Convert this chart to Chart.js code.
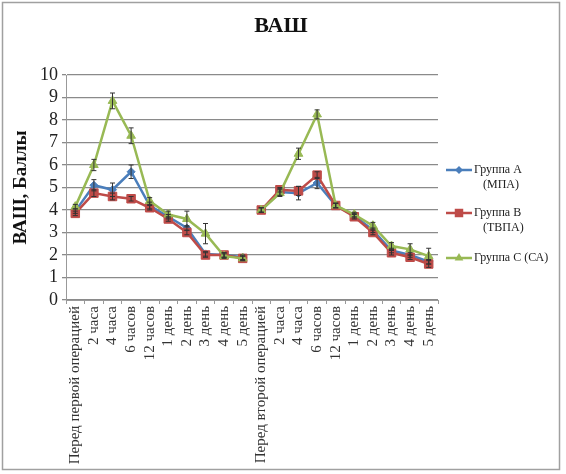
<!DOCTYPE html>
<html><head><meta charset="utf-8">
<script src="https://cdn.jsdelivr.net/npm/chart.js@4.4.1/dist/chart.umd.min.js"></script>
<style>html,body{margin:0;padding:0;background:#fff}#wrap{width:566px;height:474px}</style>
</head><body><div id="wrap"><canvas id="c" width="566" height="474"></canvas></div>
<script>
const chartTitle = 'ВАШ';
const yTitle = 'ВАШ, Баллы';
const categories = ['Перед первой операцией','2 часа','4 часа','6 часов','12 часов','1 день','2 день','3 день','4 день','5 день',
  'Перед второй операцией','2 часа','4 часа','6 часов','12 часов','1 день','2 день','3 день','4 день','5 день'];
const seriesNames = [['Группа А','(МПА)'],['Группа В','(ТВПА)'],['Группа С (СА)']];
const groupA = [3.95,5.1,4.9,5.7,4.2,3.7,3.2,2.05,2.0,1.9, 4.0,4.8,4.75,5.2,4.2,3.75,3.1,2.2,2.0,1.7];
const groupB = [3.85,4.75,4.6,4.5,4.1,3.6,3.0,2.0,2.0,1.85, 4.0,4.9,4.85,5.55,4.2,3.7,3.0,2.1,1.9,1.6];
const groupC = [4.15,6.0,8.85,7.3,4.4,3.8,3.6,2.95,1.95,1.85, 4.0,4.75,6.5,8.25,4.2,3.8,3.3,2.4,2.25,1.95];
const errA = [0.1,0.25,0.3,0.3,0.15,0.1,0.1,0.1,0.1,0.1, 0.1,0.15,0.3,0.25,0.1,0.1,0.1,0.1,0.1,0.1];
const errB = [0.1,0.15,0.15,0.1,0.1,0.1,0.1,0.1,0.1,0.1, 0.1,0.1,0.2,0.15,0.1,0.1,0.1,0.1,0.1,0.15];
const errC = [0.1,0.25,0.35,0.35,0.15,0.15,0.35,0.45,0.1,0.1, 0.1,0.15,0.25,0.2,0.1,0.1,0.15,0.15,0.25,0.35];
const yTicks = [0,1,2,3,4,5,6,7,8,9,10];
const breakAfter = 9;

const colors = ['#4a7ebb','#be4b48','#98b954'];
const styles = ['rectRot','rect','triangle'];
const radii = [4,6,5];
const SERIF = '"Liberation Serif","Times New Roman",serif';

function mkDs(i, data, err){
  return {
    label: seriesNames[i].join(' '), data, err,
    borderColor: colors[i], backgroundColor: colors[i],
    borderWidth: 2.5, pointStyle: styles[i], pointRadius: radii[i],
    pointBorderColor: colors[i], pointBackgroundColor: colors[i], pointBorderWidth: 1,
    tension: 0, order: 2 - i,
    segment: { borderColor: ctx => ctx.p0DataIndex === breakAfter ? 'rgba(0,0,0,0)' : undefined }
  };
}

const framePlugin = {
  id: 'frame',
  beforeDraw(chart){
    const c = chart.ctx;
    c.save();
    c.fillStyle = '#fff'; c.fillRect(0,0,chart.width,chart.height);
    c.strokeStyle = '#a0a0a0'; c.lineWidth = 1.5;
    c.strokeRect(2.5,2.5,557,467);
    c.fillStyle = '#111'; c.font = 'bold 22px ' + SERIF;
    c.textAlign = 'center'; c.textBaseline = 'middle';
    c.fillText(chartTitle, 281, 26);
    c.restore();
  },
  afterDatasetsDraw(chart){
    const c = chart.ctx, ys = chart.scales.y, xs = chart.scales.x;
    c.save(); c.strokeStyle = '#333'; c.lineWidth = 1;
    chart.data.datasets.forEach(ds => {
      ds.data.forEach((v, j) => {
        const e = ds.err[j]; const x = xs.getPixelForValue(j);
        const y1 = ys.getPixelForValue(v - e), y2 = ys.getPixelForValue(v + e);
        c.beginPath(); c.moveTo(x, y1); c.lineTo(x, y2);
        c.moveTo(x-2.5, y1); c.lineTo(x+2.5, y1);
        c.moveTo(x-2.5, y2); c.lineTo(x+2.5, y2); c.stroke();
      });
    });
    c.restore();
    // legend
    const ly = [170, 213, 258];
    c.save();
    c.font = '12px ' + SERIF; c.textBaseline = 'middle'; c.textAlign = 'left';
    seriesNames.forEach((lines, i) => {
      const y = ly[i];
      c.strokeStyle = colors[i]; c.lineWidth = 2.5;
      c.beginPath(); c.moveTo(446, y); c.lineTo(472, y); c.stroke();
      c.fillStyle = colors[i];
      const mx = 459, r = radii[i];
      c.beginPath();
      if (styles[i] === 'rect') { const s = r/Math.SQRT2; c.rect(mx-s, y-s, 2*s, 2*s); }
      else if (styles[i] === 'rectRot') { c.moveTo(mx, y-r); c.lineTo(mx+r, y); c.lineTo(mx, y+r); c.lineTo(mx-r, y); c.closePath(); }
      else { c.moveTo(mx, y-r); c.lineTo(mx+r*0.87, y+r*0.5); c.lineTo(mx-r*0.87, y+r*0.5); c.closePath(); }
      c.fill();
      c.fillStyle = '#222';
      lines.forEach((t, k) => c.fillText(t, k === 0 ? 474 : 483, y + k*15));
    });
    c.restore();
  }
};

new Chart(document.getElementById('c'), {
  type: 'line',
  data: { labels: categories, datasets: [mkDs(0, groupA, errA), mkDs(1, groupB, errB), mkDs(2, groupC, errC)] },
  options: {
    responsive: false, animation: false, devicePixelRatio: 1,
    layout: { padding: { left: 0, right: 128, top: 75, bottom: 0 } },
    plugins: { legend: { display: false }, tooltip: { enabled: false }, title: { display: false } },
    scales: {
      x: {
        type: 'category', offset: true,
        afterFit(s){ s.height = 174; },
        grid: { display: true, drawOnChartArea: false, offset: true, tickLength: 4, color: '#999' },
        border: { color: '#999', width: 1 },
        ticks: { autoSkip: false, maxRotation: 90, minRotation: 90, padding: 2, color: '#333', font: { family: SERIF, size: 15 } }
      },
      y: {
        min: 0, max: 10,
        afterFit(s){ s.width = 66; },
        afterBuildTicks(s){ s.ticks = yTicks.map(v => ({ value: v })); },
        grid: { color: '#8a8a8a', lineWidth: 1.3, tickLength: 4, drawTicks: true },
        border: { color: '#999', width: 1 },
        ticks: { autoSkip: false, padding: 4, color: '#222', font: { family: SERIF, size: 18 } },
        title: { display: true, text: yTitle, color: '#111', padding: { top: 10, bottom: 0 }, font: { family: SERIF, size: 19, weight: 'bold' } }
      }
    }
  },
  plugins: [framePlugin]
});
</script></body></html>
